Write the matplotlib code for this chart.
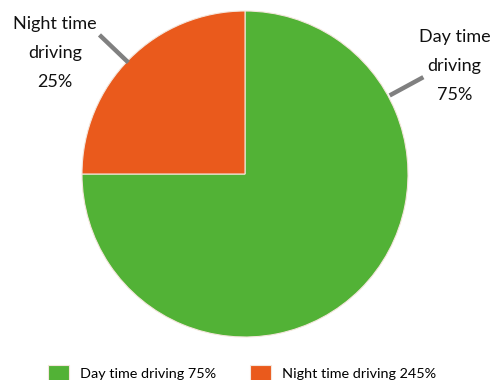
import numpy as np
import matplotlib.pyplot as plt

plt.rcParams['font.family'] = ['Lato', 'DejaVu Sans']

# Dados do gráfico
categorias = ["Day time driving", "Night time driving"]
valores = [75, 25]
rotulos_legenda = ["Day time driving 75%", "Night time driving 245%"]
rotulos_fatias = ["Day time\ndriving\n75%", "Night time\ndriving\n25%"]
cores = ["#52B236", "#EA5A1C"]

fig = plt.figure(figsize=(4.97, 3.80), dpi=100)
ax = fig.add_axes([0, 0, 1, 1])

wedges, _ = ax.pie(valores, colors=cores, startangle=90, counterclock=False,
                   radius=1.0, wedgeprops=dict(edgecolor="#f4e6dc", linewidth=0.8))

# Linhas de chamada (ângulo em graus, raio inicial e final)
linhas = [(28.5, 1.01, 1.245), (136.3, 0.99, 1.235)]
for ang, r0, r1 in linhas:
    a = np.deg2rad(ang)
    ax.plot([r0 * np.cos(a), r1 * np.cos(a)], [r0 * np.sin(a), r1 * np.sin(a)],
            color="#808080", linewidth=3.2, solid_capstyle="butt")

# Rótulos das fatias
pos_rotulos = [(1.285, 0.665), (-1.166, 0.745)]
for txt, (x, y) in zip(rotulos_fatias, pos_rotulos):
    ax.text(x, y, txt, ha="center", va="center", fontsize=13,
            linespacing=2.0, color="#111111")

ax.set_xlim(-245 / 163, 252 / 163)
ax.set_ylim(-206 / 163, 174 / 163)
ax.set_aspect("equal")
ax.axis("off")

leg = ax.legend(wedges, rotulos_legenda, loc="lower center", ncol=2,
                bbox_to_anchor=(0.487, -0.038), frameon=False, fontsize=10.4,
                handlelength=1.5, handleheight=1.4, handletextpad=0.75,
                columnspacing=2.3)

fig.savefig("out.png", dpi=100)
